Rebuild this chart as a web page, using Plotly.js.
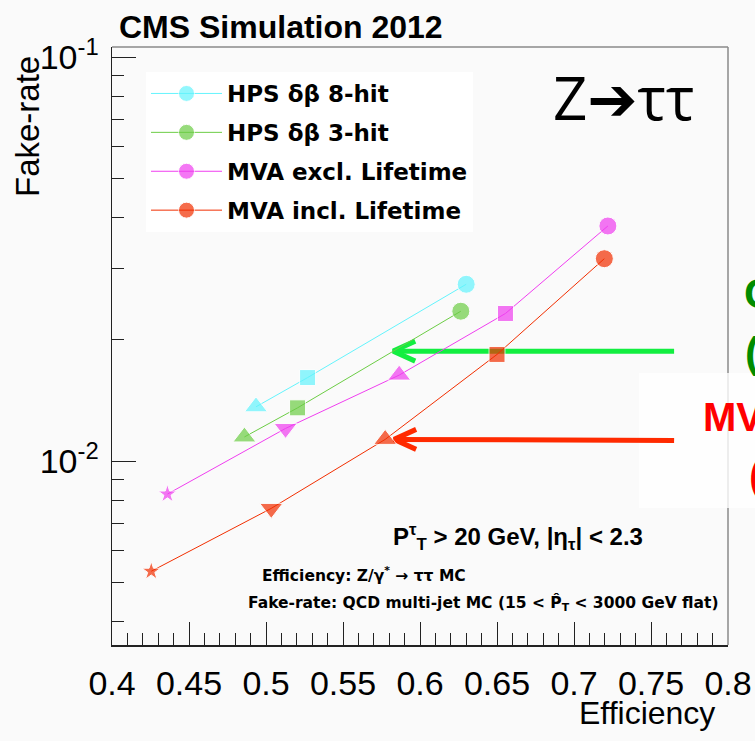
<!DOCTYPE html>
<html>
<head>
<meta charset="utf-8">
<script src="https://cdn.plot.ly/plotly-3.0.1.min.js"></script>
<style>html,body{margin:0;padding:0;background:#fafafa;}</style>
</head>
<body>
<div id="chart" style="width:755px;height:741px;"></div>
<script>
// ---- data ----
var seriesNames = ["HPS \u03b4\u03b2 8-hit", "HPS \u03b4\u03b2 3-hit", "MVA excl. Lifetime", "MVA incl. Lifetime"];
var seriesColors = ["#64f4fd", "#6ccd45", "#f03ef0", "#f22e00"];

var hps8Eff  = [0.630, 0.527, 0.4935];
var hps8Fake = [0.0274, 0.0161, 0.01363];
var hps8Sym  = ["circle", "square", "triangle-up"];

var hps3Eff  = [0.6265, 0.5205, 0.486];
var hps3Fake = [0.0235, 0.01355, 0.01148];
var hps3Sym  = ["circle", "square", "triangle-up"];

var mvaExEff  = [0.722, 0.6555, 0.5865, 0.5127, 0.436];
var mvaExFake = [0.0382, 0.0232, 0.01633, 0.01205, 0.00829];
var mvaExSym  = ["circle", "square", "triangle-up", "triangle-down", "star"];

var mvaInEff  = [0.7197, 0.650, 0.5774, 0.5034, 0.4255];
var mvaInFake = [0.0317, 0.01837, 0.01132, 0.00764, 0.00534];
var mvaInSym  = ["circle", "square", "triangle-up", "triangle-down", "star"];

var xTickVals = [0.4, 0.45, 0.5, 0.55, 0.6, 0.65, 0.7, 0.75, 0.8];
var yTickVals = [0.01, 0.1];
var yTickText = ["10<sup>-2</sup>", "10<sup>-1</sup>"];
var yMinorVals = [0.004, 0.005, 0.006, 0.007, 0.008, 0.009, 0.02, 0.03, 0.04, 0.05, 0.06, 0.07, 0.08, 0.09];

// arrows pointing at working points: tip and tail (efficiency, fake-rate)
var arrowTipEff   = [0.5826, 0.5832];
var arrowTipFake  = [0.01872, 0.01132];
var arrowTailEff  = [0.765, 0.765];
var arrowTailFake = [0.01872, 0.01125];
var arrowColors   = ["#12ee40", "#ff2a00"];

// ---- axis scale (for converting arrow-head pixel offsets) ----
var X_RANGE = [0.4, 0.8], Y_RANGE = [-2.455, -0.975];
var PLOT_W = 616, PLOT_H = 598;
function dxPx(px) { return px * (X_RANGE[1] - X_RANGE[0]) / PLOT_W; }
function fakeShift(v, px) { return Math.pow(10, Math.log10(v) - px * (Y_RANGE[1] - Y_RANGE[0]) / PLOT_H); }

// ---- helpers ----
var symSize = {"circle": 18, "square": 16, "triangle-up": 20, "triangle-down": 20, "star": 14};
function mk(name, color, xs, ys, syms, idx) {
  return {
    type: "scatter", mode: "lines+markers", name: name,
    x: xs, y: ys, legendgroup: "g" + idx,
    line: {color: color, width: 1},
    marker: {color: color, symbol: syms, size: syms.map(function(s){return symSize[s];})},
    cliponaxis: false
  };
}
var traces = [];
// arrows first (beneath markers)
for (var i = 0; i < arrowTipEff.length; i++) {
  var tx = arrowTipEff[i], ty = arrowTipFake[i];
  traces.push({
    type: "scatter", mode: "lines", showlegend: false, hoverinfo: "skip",
    x: [arrowTailEff[i], tx, null, tx + dxPx(22), tx, tx + dxPx(22)],
    y: [arrowTailFake[i], ty, null, fakeShift(ty, -10), ty, fakeShift(ty, 10)],
    line: {color: arrowColors[i], width: 5},
    connectgaps: false
  });
}
traces.push(
  mk(seriesNames[0], seriesColors[0], hps8Eff, hps8Fake, hps8Sym, 0),
  mk(seriesNames[1], seriesColors[1], hps3Eff, hps3Fake, hps3Sym, 1),
  mk(seriesNames[2], seriesColors[2], mvaExEff, mvaExFake, mvaExSym, 2),
  mk(seriesNames[3], seriesColors[3], mvaInEff, mvaInFake, mvaInSym, 3)
);

function pxX(p){ return (p - 112) / PLOT_W; }
function pxY(p){ return (645 - p) / PLOT_H; }

var arial = "Liberation Sans, Arial, sans-serif";
var wide = "DejaVu Sans, sans-serif";
var annotations = [
  {xref: "paper", yref: "paper", x: pxX(117), y: pxY(27), xanchor: "left", yanchor: "middle",
   text: "<b>CMS Simulation 2012</b>", showarrow: false, font: {family: arial, size: 32, color: "#000"}},
  {xref: "paper", yref: "paper", x: pxX(27), y: pxY(127), xanchor: "center", yanchor: "middle", textangle: -90,
   text: "Fake-rate", showarrow: false, font: {family: arial, size: 33, color: "#000"}},
  {xref: "paper", yref: "paper", x: pxX(647), y: pxY(713), xanchor: "center", yanchor: "middle",
   text: "Efficiency", showarrow: false, font: {family: arial, size: 32, color: "#000"}},
  {xref: "paper", yref: "paper", x: pxX(551), y: pxY(97), xanchor: "left", yanchor: "middle",
   text: "Z\u2794\u03c4\u03c4", showarrow: false, font: {family: "Open Sans, DejaVu Sans, sans-serif", size: 60, color: "#000"}},
  {xref: "paper", yref: "paper", x: pxX(391), y: pxY(537), xanchor: "left", yanchor: "middle",
   text: "<b>P<sup>\u03c4</sup><sub>T</sub> > 20 GeV, |\u03b7<sub>\u03c4</sub>| < 2.3</b>", showarrow: false,
   font: {family: arial, size: 24, color: "#000"}},
  {xref: "paper", yref: "paper", x: pxX(260), y: pxY(574), xanchor: "left", yanchor: "middle",
   text: "<b>Efficiency: Z/\u03b3<sup>*</sup> \u2192 \u03c4\u03c4 MC</b>", showarrow: false,
   font: {family: wide, size: 15.5, color: "#000"}},
  {xref: "paper", yref: "paper", x: pxX(246), y: pxY(603), xanchor: "left", yanchor: "middle",
   text: "<b>Fake-rate: QCD multi-jet MC (15 < P\u0302<sub>T</sub> < 3000 GeV flat)</b>", showarrow: false,
   font: {family: wide, size: 15.5, color: "#000"}},
  // text of an overlaid slide, cut by the window edge
  {xref: "paper", yref: "paper", x: pxX(742), y: pxY(293), xanchor: "left", yanchor: "middle",
   text: "<b>C</b>", showarrow: false, font: {family: arial, size: 43, color: "#008c00"}},
  {xref: "paper", yref: "paper", x: pxX(743), y: pxY(352), xanchor: "left", yanchor: "middle",
   text: "<b>(</b>", showarrow: false, font: {family: arial, size: 43, color: "#008c00"}},
  {xref: "paper", yref: "paper", x: pxX(701), y: pxY(417), xanchor: "left", yanchor: "middle",
   text: "<b>MV</b>", showarrow: false, font: {family: arial, size: 40, color: "#ff0000"}},
  {xref: "paper", yref: "paper", x: pxX(747), y: pxY(475), xanchor: "left", yanchor: "middle",
   text: "<b>(</b>", showarrow: false, font: {family: arial, size: 43, color: "#ff0000"}}
];

var layout = {
  width: 755, height: 741,
  margin: {l: 112, r: 27, t: 47, b: 96, pad: 0},
  paper_bgcolor: "#fafafa", plot_bgcolor: "rgba(0,0,0,0)",
  showlegend: true,
  legend: {
    x: pxX(146), y: pxY(72), xanchor: "left", yanchor: "top",
    bgcolor: "#ffffff", borderwidth: 0, itemwidth: 71,
    traceorder: "grouped", tracegroupgap: 6,
    font: {family: wide, size: 23, color: "#000", weight: "bold"}
  },
  xaxis: {
    type: "linear", range: X_RANGE, tickmode: "array", tickvals: xTickVals,
    ticks: "inside", ticklen: 23, tickwidth: 1, tickcolor: "#222",
    minor: {dtick: 0.01, tick0: 0.4, ticks: "inside", ticklen: 12, tickwidth: 1, tickcolor: "#222"},
    showgrid: false, zeroline: false, showline: true, linecolor: "#222", linewidth: 1.5,
    tickfont: {family: arial, size: 34, color: "#000"},
    ticklabelstandoff: 8
  },
  yaxis: {
    type: "log", range: Y_RANGE, tickmode: "array", tickvals: yTickVals, ticktext: yTickText,
    ticks: "inside", ticklen: 24, tickwidth: 1, tickcolor: "#222",
    minor: {tickmode: "array", tickvals: yMinorVals, ticks: "inside", ticklen: 12, tickwidth: 1, tickcolor: "#222"},
    showgrid: false, zeroline: false, showline: true, linecolor: "#222", linewidth: 1.5,
    tickfont: {family: arial, size: 34, color: "#000"},
    ticklabelstandoff: 5
  },
  shapes: [
    {type: "line", xref: "paper", yref: "paper", x0: 0, x1: 1, y0: 1, y1: 1, line: {color: "#8a8a8a", width: 1.5}, layer: "below"},
    {type: "line", xref: "paper", yref: "paper", x0: 1, x1: 1, y0: 0, y1: 1, line: {color: "#8a8a8a", width: 1.5}, layer: "below"},
    {type: "rect", xref: "paper", yref: "paper", x0: pxX(639), x1: pxX(770), y0: pxY(508), y1: pxY(373),
     fillcolor: "rgba(255,255,255,0.8)", line: {width: 0}, layer: "below"}
  ],
  annotations: annotations
};

Plotly.newPlot("chart", traces, layout, {displayModeBar: false, staticPlot: true});
</script>
</body>
</html>
